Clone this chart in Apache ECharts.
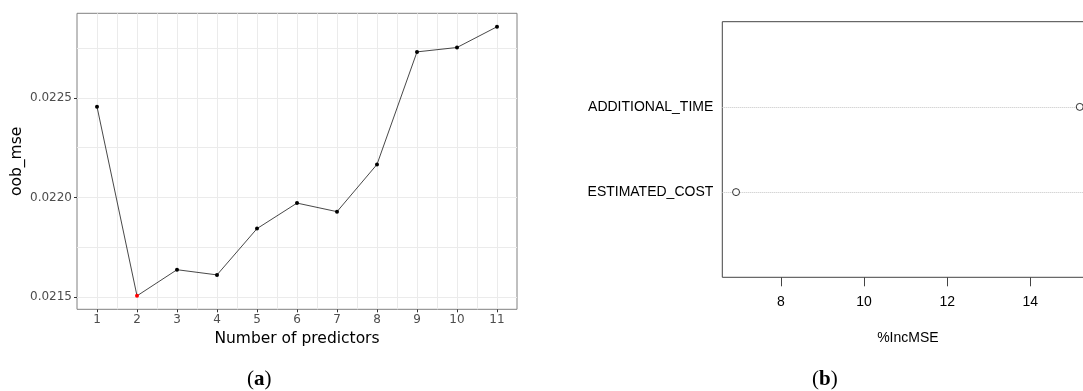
<!DOCTYPE html>
<html>
<head>
<meta charset="utf-8">
<script src="https://cdn.jsdelivr.net/npm/echarts@6/dist/echarts.min.js"></script>
<style>
  html, body { margin: 0; padding: 0; background: #ffffff; overflow: hidden; }
  #chart { width: 1100px; height: 391px; }
</style>
</head>
<body>
<div id="chart"></div>
<script>
// Panel (a): out-of-bag MSE by number of predictors
const predictorCounts = [1, 2, 3, 4, 5, 6, 7, 8, 9, 10, 11];
const oobMse = [0.022455, 0.021507, 0.021638, 0.021612, 0.021844, 0.021972,
                0.021929, 0.022166, 0.022730, 0.022752, 0.022856];
const yTickValues = [0.0215, 0.0220, 0.0225];
const yMinorValues = [0.02175, 0.02225, 0.02275];
const xMinorValues = [1.5, 2.5, 3.5, 4.5, 5.5, 6.5, 7.5, 8.5, 9.5, 10.5];

// Panel (b): variable importance (%IncMSE)
const variables = ['ESTIMATED_COST', 'ADDITIONAL_TIME'];
const incMse = [6.92, 15.19];
const incMseTicks = [8, 10, 12, 14];

// ggplot-style 5% expansion of the continuous scales
function expand(values, frac) {
  const lo = Math.min(...values), hi = Math.max(...values);
  const pad = (hi - lo) * frac;
  return [lo - pad, hi + pad];
}
const xRangeA = expand(predictorCounts, 0.05);
const yRangeA = expand(oobMse, 0.05);
// base-R dotchart uses a 4% extension
const xRangeB = expand(incMse, 0.04);

const minIdx = oobMse.indexOf(Math.min(...oobMse));
const lineData = predictorCounts.map((c, i) => ({
  value: [c, oobMse[i]],
  itemStyle: { color: i === minIdx ? '#ff0000' : '#000000' }
}));

// panel grid: vertical and horizontal reference lines at major and minor breaks
const vLine = v => [{ coord: [v, yRangeA[0]] }, { coord: [v, yRangeA[1]] }];
const hLine = v => [{ coord: [xRangeA[0], v] }, { coord: [xRangeA[1], v] }];
const gridMarks = []
  .concat(xMinorValues.map(vLine))
  .concat(predictorCounts.map(vLine))
  .concat(yMinorValues.map(hLine))
  .concat(yTickValues.map(hLine));

const sansA = 'DejaVu Sans';
const sansB = 'Liberation Sans';

const chart = echarts.init(document.getElementById('chart'), null, { renderer: 'canvas' });
chart.setOption({
  animation: false,
  backgroundColor: '#ffffff',
  grid: [
    { left: 77, top: 13.3, width: 440, height: 296, show: true,
      borderColor: '#808080', borderWidth: 1, backgroundColor: 'transparent' },
    { left: 722.3, top: 21.7, width: 371.2, height: 255.6, show: true,
      borderColor: '#444444', borderWidth: 1, backgroundColor: 'transparent' }
  ],
  xAxis: [
    {
      gridIndex: 0, type: 'value', min: xRangeA[0], max: xRangeA[1],
      name: 'Number of predictors', nameLocation: 'middle', nameGap: 21,
      nameTextStyle: { fontFamily: sansA, fontSize: 15.5, color: '#000000' },
      axisLine: { show: false },
      axisTick: { show: true, customValues: predictorCounts, length: 3,
                  lineStyle: { color: '#333333' } },
      axisLabel: { customValues: predictorCounts, margin: 5,
                   fontFamily: sansA, fontSize: 12, color: '#4d4d4d' },
      splitLine: { show: false }
    },
    {
      gridIndex: 1, type: 'value', min: xRangeB[0], max: xRangeB[1],
      name: '%IncMSE', nameLocation: 'middle', nameGap: 54,
      nameTextStyle: { fontFamily: sansB, fontSize: 14, color: '#000000' },
      axisLine: { show: false },
      axisTick: { show: true, customValues: incMseTicks, length: 9,
                  lineStyle: { color: '#444444' } },
      axisLabel: { customValues: incMseTicks, margin: 18,
                   fontFamily: sansB, fontSize: 14, color: '#000000' },
      splitLine: { show: false }
    }
  ],
  yAxis: [
    {
      gridIndex: 0, type: 'value', min: yRangeA[0], max: yRangeA[1],
      name: 'oob_mse', nameLocation: 'middle', nameGap: 52, nameRotate: 90,
      nameTextStyle: { fontFamily: sansA, fontSize: 15.5, color: '#000000' },
      axisLine: { show: false },
      axisTick: { show: true, customValues: yTickValues, length: 3,
                  lineStyle: { color: '#333333' } },
      axisLabel: { customValues: yTickValues, margin: 5,
                   fontFamily: sansA, fontSize: 12, color: '#4d4d4d',
                   formatter: v => v.toFixed(4) },
      splitLine: { show: false }
    },
    {
      gridIndex: 1, type: 'value', min: 0, max: variables.length + 1,
      axisLine: { show: false },
      axisTick: { show: false },
      axisLabel: { customValues: variables.map((_, i) => i + 1), margin: 9,
                   fontFamily: sansB, fontSize: 14, color: '#000000',
                   formatter: v => variables[Math.round(v) - 1] },
      splitLine: { show: false }
    }
  ],
  series: [
    {
      type: 'line', xAxisIndex: 0, yAxisIndex: 0, z: 3,
      data: lineData,
      symbol: 'circle', symbolSize: 4,
      lineStyle: { color: '#333333', width: 0.9 },
      itemStyle: { color: '#000000' },
      markLine: {
        silent: true, symbol: 'none', z: 0, animation: false,
        label: { show: false },
        lineStyle: { color: '#ebebeb', width: 1, type: 'solid' },
        emphasis: { disabled: true },
        data: gridMarks
      }
    },
    {
      type: 'scatter', xAxisIndex: 1, yAxisIndex: 1, z: 3,
      data: incMse.map((v, i) => [v, i + 1]),
      symbol: 'circle', symbolSize: 7,
      itemStyle: { color: '#ffffff', borderColor: '#000000', borderWidth: 1 },
      markLine: {
        silent: true, symbol: 'none', z: 1, animation: false,
        label: { show: false },
        lineStyle: { color: '#c4c4c4', width: 1, type: 'dotted' },
        data: variables.map((_, i) => ({ yAxis: i + 1 }))
      }
    }
  ],
  graphic: [
    {
      type: 'text', left: 247, top: 369, z: 10,
      style: {
        text: '{p|(}{b|a}{p|)}',
        rich: {
          p: { fontFamily: 'Liberation Serif', fontSize: 21, fill: '#000000' },
          b: { fontFamily: 'Liberation Serif', fontSize: 21, fontWeight: 'bold', fill: '#000000' }
        }
      }
    },
    {
      type: 'text', left: 812, top: 369, z: 10,
      style: {
        text: '{p|(}{b|b}{p|)}',
        rich: {
          p: { fontFamily: 'Liberation Serif', fontSize: 21, fill: '#000000' },
          b: { fontFamily: 'Liberation Serif', fontSize: 21, fontWeight: 'bold', fill: '#000000' }
        }
      }
    }
  ]
});
</script>
</body>
</html>
